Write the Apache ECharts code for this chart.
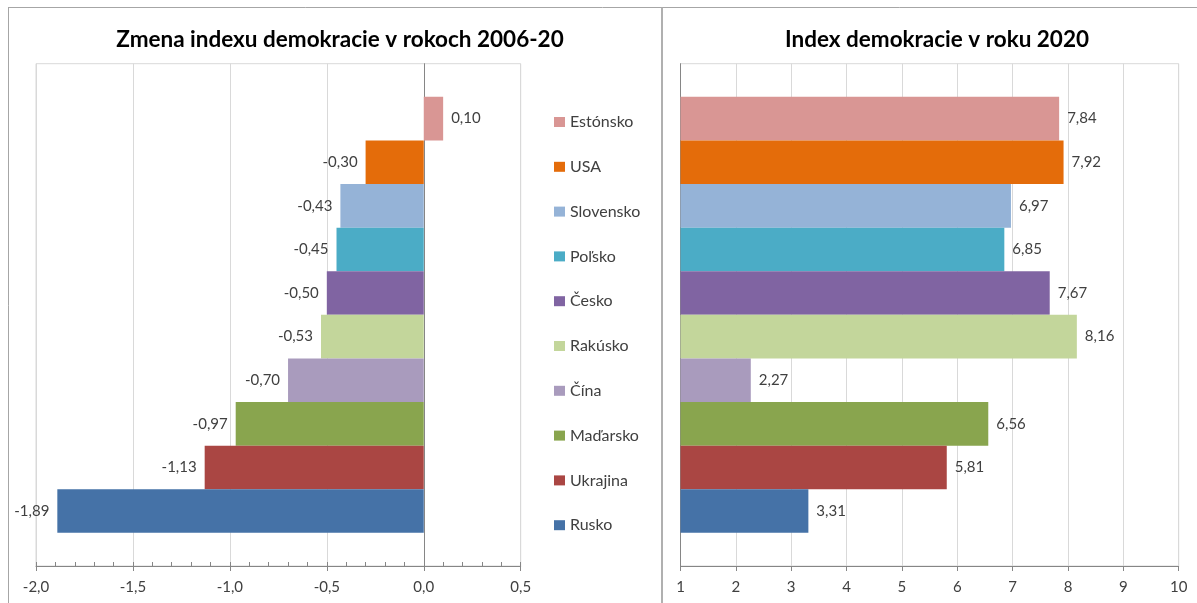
<!DOCTYPE html>
<html>
<head>
<meta charset="utf-8">
<script src="https://cdn.jsdelivr.net/npm/echarts@6/dist/echarts.min.js"></script>
<style>
  html, body { margin: 0; padding: 0; background: #fff; }
  #chart { width: 1197px; height: 603px; }
</style>
</head>
<body>
<div id="chart"></div>
<script>
(function () {
  'use strict';

  // data
  var countries = ['Estónsko', 'USA', 'Slovensko', 'Poľsko', 'Česko', 'Rakúsko', 'Čína', 'Maďarsko', 'Ukrajina', 'Rusko'];
  var change0620 = [0.10, -0.30, -0.43, -0.45, -0.50, -0.53, -0.70, -0.97, -1.13, -1.89];
  var index2020 = [7.84, 7.92, 6.97, 6.85, 7.67, 8.16, 2.27, 6.56, 5.81, 3.31];
  var colors = ['#D99694', '#E46C0A', '#95B3D7', '#4BACC6', '#8064A2', '#C3D69B', '#A99BBD', '#89A54E', '#AA4643', '#4572A7'];

  var FONT = 'Lato';
  var TXT = '#404040';

  function comma(v, d) {
    return v.toFixed(d).replace('.', ',');
  }

  function barLabel(pos) {
    return {
      show: true,
      position: pos,
      distance: 8,
      fontFamily: FONT,
      fontSize: 15,
      color: TXT,
      formatter: function (p) { return comma(p.value, 2); }
    };
  }

  var series = [];
  countries.forEach(function (name, i) {
    var c = change0620[i];
    series.push({
      name: name,
      type: 'bar',
      xAxisIndex: 0,
      yAxisIndex: 0,
      data: [c],
      barGap: '0%',
      barCategoryGap: '13.2%',
      itemStyle: { color: colors[i] },
      label: barLabel(c < 0 ? 'left' : 'right')
    });
  });
  countries.forEach(function (name, i) {
    series.push({
      name: name,
      type: 'bar',
      xAxisIndex: 2,
      yAxisIndex: 1,
      data: [index2020[i]],
      barGap: '0%',
      barCategoryGap: '13.2%',
      itemStyle: { color: colors[i] },
      label: barLabel('right')
    });
  });

  var chart = echarts.init(document.getElementById('chart'));
  chart.setOption({
    animation: false,
    textStyle: { fontFamily: FONT },
    title: [
      { text: 'Zmena indexu demokracie v rokoch 2006-20', left: 335, top: 23, textAlign: 'center',
        textStyle: { fontFamily: FONT, fontSize: 22.5, fontWeight: 'bold', color: '#000' } },
      { text: 'Index demokracie v roku 2020', left: 932, top: 23, textAlign: 'center',
        textStyle: { fontFamily: FONT, fontSize: 22.5, fontWeight: 'bold', color: '#000' } }
    ],
    legend: {
      orient: 'vertical',
      left: 549,
      top: 109,
      icon: 'rect',
      itemWidth: 11,
      itemHeight: 10,
      itemGap: 28.8,
      selectedMode: false,
      data: countries,
      textStyle: { fontFamily: FONT, fontSize: 16, lineHeight: 16, color: TXT }
    },
    grid: [
      { left: 36, right: 676.3, top: 63.7, bottom: 37, show: true, borderColor: '#D9D9D9', borderWidth: 1 },
      { left: 680.5, right: 18.3, top: 63.7, bottom: 37, show: true, borderColor: '#D9D9D9', borderWidth: 1 }
    ],
    xAxis: [
      {
        gridIndex: 0, type: 'value', min: -2, max: 0.5, interval: 0.5,
        axisLine: { show: true, lineStyle: { color: '#868686' } },
        axisTick: { show: true, inside: true, length: 4, lineStyle: { color: '#868686' } },
        minorTick: { show: true, splitNumber: 5, length: 4, lineStyle: { color: '#868686' } },
        splitLine: { show: true, lineStyle: { color: '#D9D9D9' } },
        axisLabel: { margin: 14, fontFamily: FONT, fontSize: 15, color: TXT,
          formatter: function (v) { return comma(v, 1); } }
      },
      {
        // outer half of the crossing major ticks
        gridIndex: 0, type: 'value', min: -2, max: 0.5, interval: 0.5, position: 'bottom',
        axisLine: { show: false },
        axisTick: { show: true, length: 5, lineStyle: { color: '#868686' } },
        splitLine: { show: false },
        axisLabel: { show: false }
      },
      {
        gridIndex: 1, type: 'value', min: 1, max: 10, interval: 1,
        axisLine: { show: true, lineStyle: { color: '#868686' } },
        axisTick: { show: true, length: 5, lineStyle: { color: '#868686' } },
        splitLine: { show: true, lineStyle: { color: '#D9D9D9' } },
        axisLabel: { margin: 14, fontFamily: FONT, fontSize: 15, color: TXT }
      }
    ],
    yAxis: [
      {
        gridIndex: 0, type: 'category', data: [''],
        axisLine: { show: true, onZero: true, lineStyle: { color: '#868686' } },
        axisTick: { show: false }, axisLabel: { show: false }
      },
      {
        gridIndex: 1, type: 'category', data: [''],
        axisLine: { show: true, lineStyle: { color: '#868686' } },
        axisTick: { show: false }, axisLabel: { show: false }
      }
    ],
    graphic: [
      { type: 'line', shape: { x1: 8.5, y1: 7.5, x2: 8.5, y2: 603 }, style: { stroke: '#A6A6A6', lineWidth: 1 } },
      { type: 'line', shape: { x1: 8, y1: 7.5, x2: 1197, y2: 7.5 }, style: { stroke: '#A6A6A6', lineWidth: 1 } },
      { type: 'line', shape: { x1: 662, y1: 7.5, x2: 662, y2: 603 }, style: { stroke: '#B0B0B0', lineWidth: 2 } }
    ],
    series: series
  });
})();
</script>
</body>
</html>
